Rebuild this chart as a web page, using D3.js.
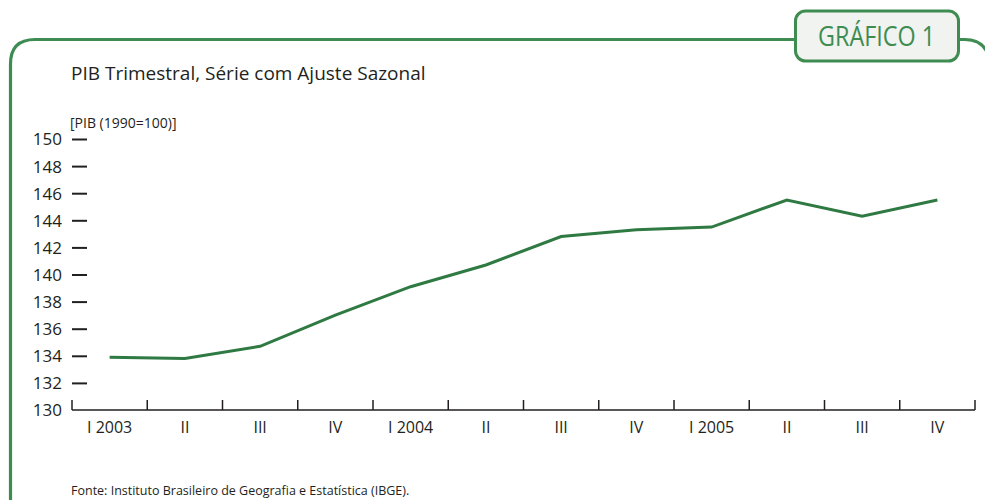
<!DOCTYPE html>
<html>
<head>
<meta charset="utf-8">
<script src="https://cdn.jsdelivr.net/npm/d3@7"></script>
<style>
  body { margin: 0; background: #fff; }
  text { font-family: "Open Sans", Lato, sans-serif; }
</style>
</head>
<body>
<div id="chart"></div>
<script>
// quarters and PIB index (1990=100), seasonally adjusted
var quarters = ["I 2003", "II", "III", "IV", "I 2004", "II", "III", "IV", "I 2005", "II", "III", "IV"];
var pib = [133.9, 133.8, 134.7, 137.0, 139.1, 140.7, 142.8, 143.3, 143.5, 145.5, 144.3, 145.5];
var yTicks = [130, 132, 134, 136, 138, 140, 142, 144, 146, 148, 150];

var green = "#3e8c52";
var lineGreen = "#2f7a43";

function main(){
    var width = 985, height = 500;

    var svg = d3.select("#chart").append("svg")
        .attr("width", width)
        .attr("height", height);

    // rounded frame (bottom runs off the picture)
    svg.append("path")
        .attr("d", "M10.5,560 L10.5,64 Q10.5,39.5 35,39.5 L800,39.5 M955,39.5 L965,39.5 Q985,39.5 990,60")
        .attr("fill", "none")
        .attr("stroke", green)
        .attr("stroke-width", 3.2);

    // badge
    svg.append("rect")
        .attr("x", 795.5).attr("y", 11)
        .attr("width", 163).attr("height", 50)
        .attr("rx", 10).attr("ry", 10)
        .attr("fill", "#f0f3ef")
        .attr("stroke", green)
        .attr("stroke-width", 3);

    svg.append("text")
        .attr("x", 818).attr("y", 46)
        .attr("font-size", "27px")
        .attr("textLength", 117)
        .attr("lengthAdjust", "spacingAndGlyphs")
        .attr("fill", green)
        .text("GRÁFICO 1");

    svg.append("text")
        .attr("x", 71).attr("y", 80)
        .attr("font-size", "19px")
        .attr("fill", "#231f20")
        .text("PIB Trimestral, Série com Ajuste Sazonal");

    svg.append("text")
        .attr("x", 70).attr("y", 128)
        .attr("font-size", "14px")
        .attr("fill", "#231f20")
        .text("[PIB (1990=100)]");

    var xScale = d3.scaleBand().domain(d3.range(quarters.length)).range([72, 975]);
    var yScale = d3.scaleLinear().domain([130, 150]).range([410, 139]);

    // y axis: short dashes with labels, no domain line
    var yAxis = svg.append("g")
        .attr("transform", "translate(72,0)")
        .call(d3.axisLeft(yScale).tickValues(yTicks).tickSize(0).tickPadding(10));
    yAxis.select(".domain").remove();
    yAxis.selectAll("text")
        .attr("font-size", "17px")
        .attr("fill", "#231f20")
        .attr("dy", "0.35em");
    yAxis.selectAll(".tick")
        .filter(function(d){ return d !== 130; })
        .append("line")
        .attr("x1", 0).attr("x2", 15)
        .attr("stroke", "#231f20")
        .attr("stroke-width", 2);

    // x axis: baseline with upward ticks at band edges
    var edges = d3.range(quarters.length + 1).map(function(i){
        return i < quarters.length ? xScale(i) : xScale.range()[1];
    });
    var xg = svg.append("g");
    xg.append("line")
        .attr("x1", 72).attr("x2", 975)
        .attr("y1", 410).attr("y2", 410)
        .attr("stroke", "#231f20")
        .attr("stroke-width", 1.5);
    xg.selectAll(".xt")
        .data(edges)
        .enter().append("line")
        .attr("class", "xt")
        .attr("x1", function(d){ return d; })
        .attr("x2", function(d){ return d; })
        .attr("y1", 410).attr("y2", 400)
        .attr("stroke", "#231f20")
        .attr("stroke-width", 1.5);
    xg.selectAll(".xl")
        .data(quarters)
        .enter().append("text")
        .attr("class", "xl")
        .attr("x", function(d, i){ return xScale(i) + xScale.bandwidth() / 2; })
        .attr("y", 433)
        .attr("text-anchor", "middle")
        .attr("font-size", "16px")
        .attr("fill", "#231f20")
        .text(function(d){ return d; });

    var line = d3.line()
        .x(function(d, i){ return xScale(i) + xScale.bandwidth() / 2; })
        .y(function(d){ return yScale(d); });

    svg.append("path")
        .datum(pib)
        .attr("d", line)
        .attr("fill", "none")
        .attr("stroke", lineGreen)
        .attr("stroke-width", 3);

    svg.append("text")
        .attr("x", 71).attr("y", 495)
        .attr("font-size", "12.5px")
        .attr("fill", "#231f20")
        .text("Fonte: Instituto Brasileiro de Geografia e Estatística (IBGE).");
}
main();
</script>
</body>
</html>
